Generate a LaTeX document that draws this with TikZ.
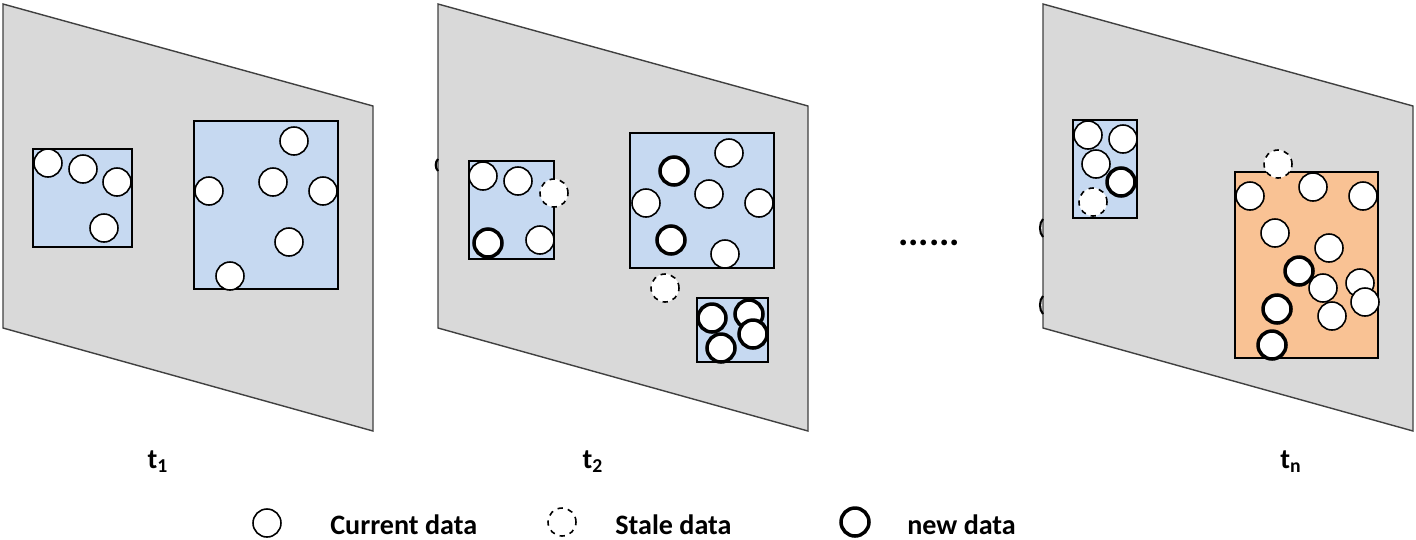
\documentclass[tikz,border=0pt]{standalone}
\usepackage{fontspec}
\setmainfont{Carlito}
\usepackage{tikz}
\usepackage{xcolor}
\definecolor{grigio}{HTML}{D9D9D9}
\definecolor{azzurro}{HTML}{C6D9F1}
\definecolor{arancio}{HTML}{F9C294}
\tikzset{
  pannello/.style = {fill=grigio, draw=black!75, line width=0.8pt},
  scatola/.style = {draw, line width=1.1pt},
  corrente/.style = {draw, fill=white, line width=0.9pt},
  vecchio/.style = {draw, fill=white, dashed, line width=0.9pt},
  nuovo/.style = {draw, fill=white, line width=2pt},
  etichetta/.style = {font=\bfseries\fontsize{16}{18}\selectfont, inner sep=0pt}
}
\begin{document}
\begin{tikzpicture}[x=0.02cm, y=-0.02cm]
    % Parametri
    \pgfmathsetmacro{\raggio}{0.28}
    \useasboundingbox (0,0) rectangle (1416,539);

    % Pannelli
    \foreach \px in {3, 438, 1043}
        \draw[pannello] (\px,4) -- ++(370,102) -- ++(0,325) -- ++(-370,-103) -- cycle;
    % bordi di cerchi dietro i pannelli
    \draw[line width=1.2pt] (438,159) .. controls (435,162) and (435,168) .. (438,171);
    \draw[line width=1.2pt] (1043,219) .. controls (1039,223) and (1039,233) .. (1043,237);
    \draw[line width=1.2pt] (1043,296) .. controls (1039,300) and (1039,310) .. (1043,314);

    % t1
    \draw[scatola, fill=azzurro] (33,149) rectangle (132,247);
    \draw[scatola, fill=azzurro] (194,121) rectangle (338,289);
    \foreach \x/\y in {48/163, 83/169, 117/182, 104/228, 294/141, 209/191, 273/182, 323/191, 289/242, 230/276}
        \draw[corrente] (\x,\y) circle (\raggio cm);

    % t2
    \draw[scatola, fill=azzurro] (469,161) rectangle (554,259);
    \draw[scatola, fill=azzurro] (630,133) rectangle (774,268);
    \draw[scatola, fill=azzurro] (697,298) rectangle (768,362);
    \foreach \x/\y in {483/176, 518/181, 540/240, 729/153, 709/194, 646/203, 759/203, 725/254}
        \draw[corrente] (\x,\y) circle (\raggio cm);
    \foreach \x/\y in {554/193, 665/288}
        \draw[vecchio] (\x,\y) circle (\raggio cm);
    \foreach \x/\y in {488/243, 674/171, 671/240, 749/314, 712/318, 753/334, 721/348}
        \draw[nuovo] (\x,\y) circle (\raggio cm);

    % tn
    \draw[scatola, fill=azzurro] (1073,120) rectangle (1137,218);
    \draw[scatola, fill=arancio] (1235,172) rectangle (1378,358);
    \foreach \x/\y in {1088/135, 1123/139, 1096/164}
        \draw[corrente] (\x,\y) circle (\raggio cm);
    \draw[nuovo] (1121,182) circle (\raggio cm);
    \foreach \x/\y in {1093/202, 1278/164}
        \draw[vecchio] (\x,\y) circle (\raggio cm);
    \foreach \x/\y in {1250/196, 1313/187, 1363/196, 1275/233, 1329/248}
        \draw[corrente] (\x,\y) circle (\raggio cm);
    \draw[nuovo] (1299,271) circle (\raggio cm);
    \foreach \x/\y in {1360/283, 1323/288, 1365/302, 1332/316}
        \draw[corrente] (\x,\y) circle (\raggio cm);
    \foreach \x/\y in {1277/309, 1272/345}
        \draw[nuovo] (\x,\y) circle (\raggio cm);

    % puntini
    \node[inner sep=0pt, font=\bfseries\fontsize{22}{24}\selectfont] (puntini) at (929,243) {......};

    % Etichette
    \node[etichetta, anchor=base] (tuno) at (158,468) {t\textsubscript{1}};
    \node[etichetta, anchor=base] (tdue) at (593,468) {t\textsubscript{2}};
    \node[etichetta, anchor=base] (tenne) at (1291,468) {t\textsubscript{n}};

    % Legenda
    \draw[corrente] (267,523) circle (\raggio cm);
    \draw[vecchio] (562,522) circle (\raggio cm);
    \draw[nuovo] (855,522) circle (\raggio cm);
    \node[etichetta, anchor=base west] (legcorrente) at (330,534) {Current data};
    \node[etichetta, anchor=base west] (legvecchio) at (615,534) {Stale data};
    \node[etichetta, anchor=base west] (legnuovo) at (907,534) {new data};
\end{tikzpicture}
\end{document}
